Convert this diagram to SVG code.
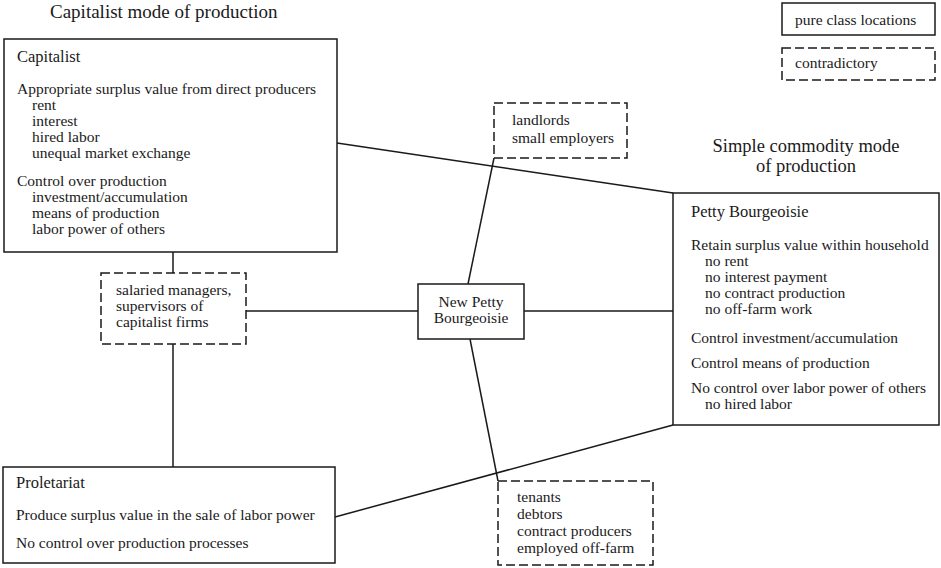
<svg xmlns="http://www.w3.org/2000/svg" width="941" height="568" viewBox="0 0 941 568">
<style>
text{font-family:"Liberation Serif","Times New Roman",serif;fill:#1a1a1a;font-size:15.5px}
.h{font-size:19px}
.h2{font-size:18.5px}
.t{font-size:16.5px}
.box{fill:#fff;stroke:#1a1a1a;stroke-width:1.5}
.dash{fill:#fff;stroke:#1a1a1a;stroke-width:1.5;stroke-dasharray:9 4}
.con line{stroke:#1a1a1a;stroke-width:1.5}
</style>
<rect width="941" height="568" fill="#fff"/>
<g id="connectors" class="con">
<line x1="337" y1="143" x2="673" y2="193"/>
<line x1="173" y1="252" x2="173" y2="273"/>
<line x1="173" y1="344" x2="173" y2="467"/>
<line x1="246" y1="311" x2="418" y2="311"/>
<line x1="524" y1="311" x2="673" y2="311"/>
<line x1="468" y1="284" x2="494" y2="158"/>
<line x1="470" y1="339" x2="498" y2="481"/>
<line x1="335" y1="517" x2="673" y2="425"/>
</g>
<text class="h" x="50" y="18">Capitalist mode of production</text>
<text class="h2" x="806" y="152" text-anchor="middle">Simple commodity mode</text>
<text class="h2" x="806" y="172" text-anchor="middle">of production</text>
<g id="legend-pure">
<rect class="box" x="782" y="3" width="153" height="32"/>
<text x="795" y="25">pure class locations</text>
</g>
<g id="legend-contradictory">
<rect class="dash" x="782" y="48" width="153" height="32"/>
<text x="795" y="68">contradictory</text>
</g>
<g id="capitalist">
<rect class="box" x="4" y="39" width="333" height="213"/>
<text class="t" x="17" y="62">Capitalist</text>
<text x="17" y="94">Appropriate surplus value from direct producers</text>
<text x="32" y="110">rent</text>
<text x="32" y="126">interest</text>
<text x="32" y="142">hired labor</text>
<text x="32" y="158">unequal market exchange</text>
<text x="17" y="186">Control over production</text>
<text x="32" y="202">investment/accumulation</text>
<text x="32" y="218">means of production</text>
<text x="32" y="234">labor power of others</text>
</g>
<g id="salaried">
<rect class="dash" x="101" y="273" width="145" height="71"/>
<text x="116" y="295">salaried managers,</text>
<text x="116" y="311">supervisors of</text>
<text x="116" y="327">capitalist firms</text>
</g>
<g id="new-petty-bourgeoisie">
<rect class="box" x="418" y="284" width="106" height="55"/>
<text x="471" y="307" text-anchor="middle">New Petty</text>
<text x="471" y="323" text-anchor="middle">Bourgeoisie</text>
</g>
<g id="landlords">
<rect class="dash" x="494" y="103" width="133" height="55"/>
<text x="512" y="125">landlords</text>
<text x="512" y="143">small employers</text>
</g>
<g id="tenants">
<rect class="dash" x="498" y="481" width="155" height="84"/>
<text x="517" y="502">tenants</text>
<text x="517" y="519">debtors</text>
<text x="517" y="536">contract producers</text>
<text x="517" y="553">employed off-farm</text>
</g>
<g id="petty-bourgeoisie">
<rect class="box" x="673" y="193" width="266" height="232"/>
<text class="t" x="691" y="217">Petty Bourgeoisie</text>
<text x="691" y="250">Retain surplus value within household</text>
<text x="705" y="266">no rent</text>
<text x="705" y="282">no interest payment</text>
<text x="705" y="298">no contract production</text>
<text x="705" y="314">no off-farm work</text>
<text x="691" y="343">Control investment/accumulation</text>
<text x="691" y="368">Control means of production</text>
<text x="691" y="393">No control over labor power of others</text>
<text x="705" y="409">no hired labor</text>
</g>
<g id="proletariat">
<rect class="box" x="3" y="467" width="332" height="96"/>
<text class="t" x="16" y="488">Proletariat</text>
<text x="16" y="520">Produce surplus value in the sale of labor power</text>
<text x="16" y="548">No control over production processes</text>
</g>
</svg>
